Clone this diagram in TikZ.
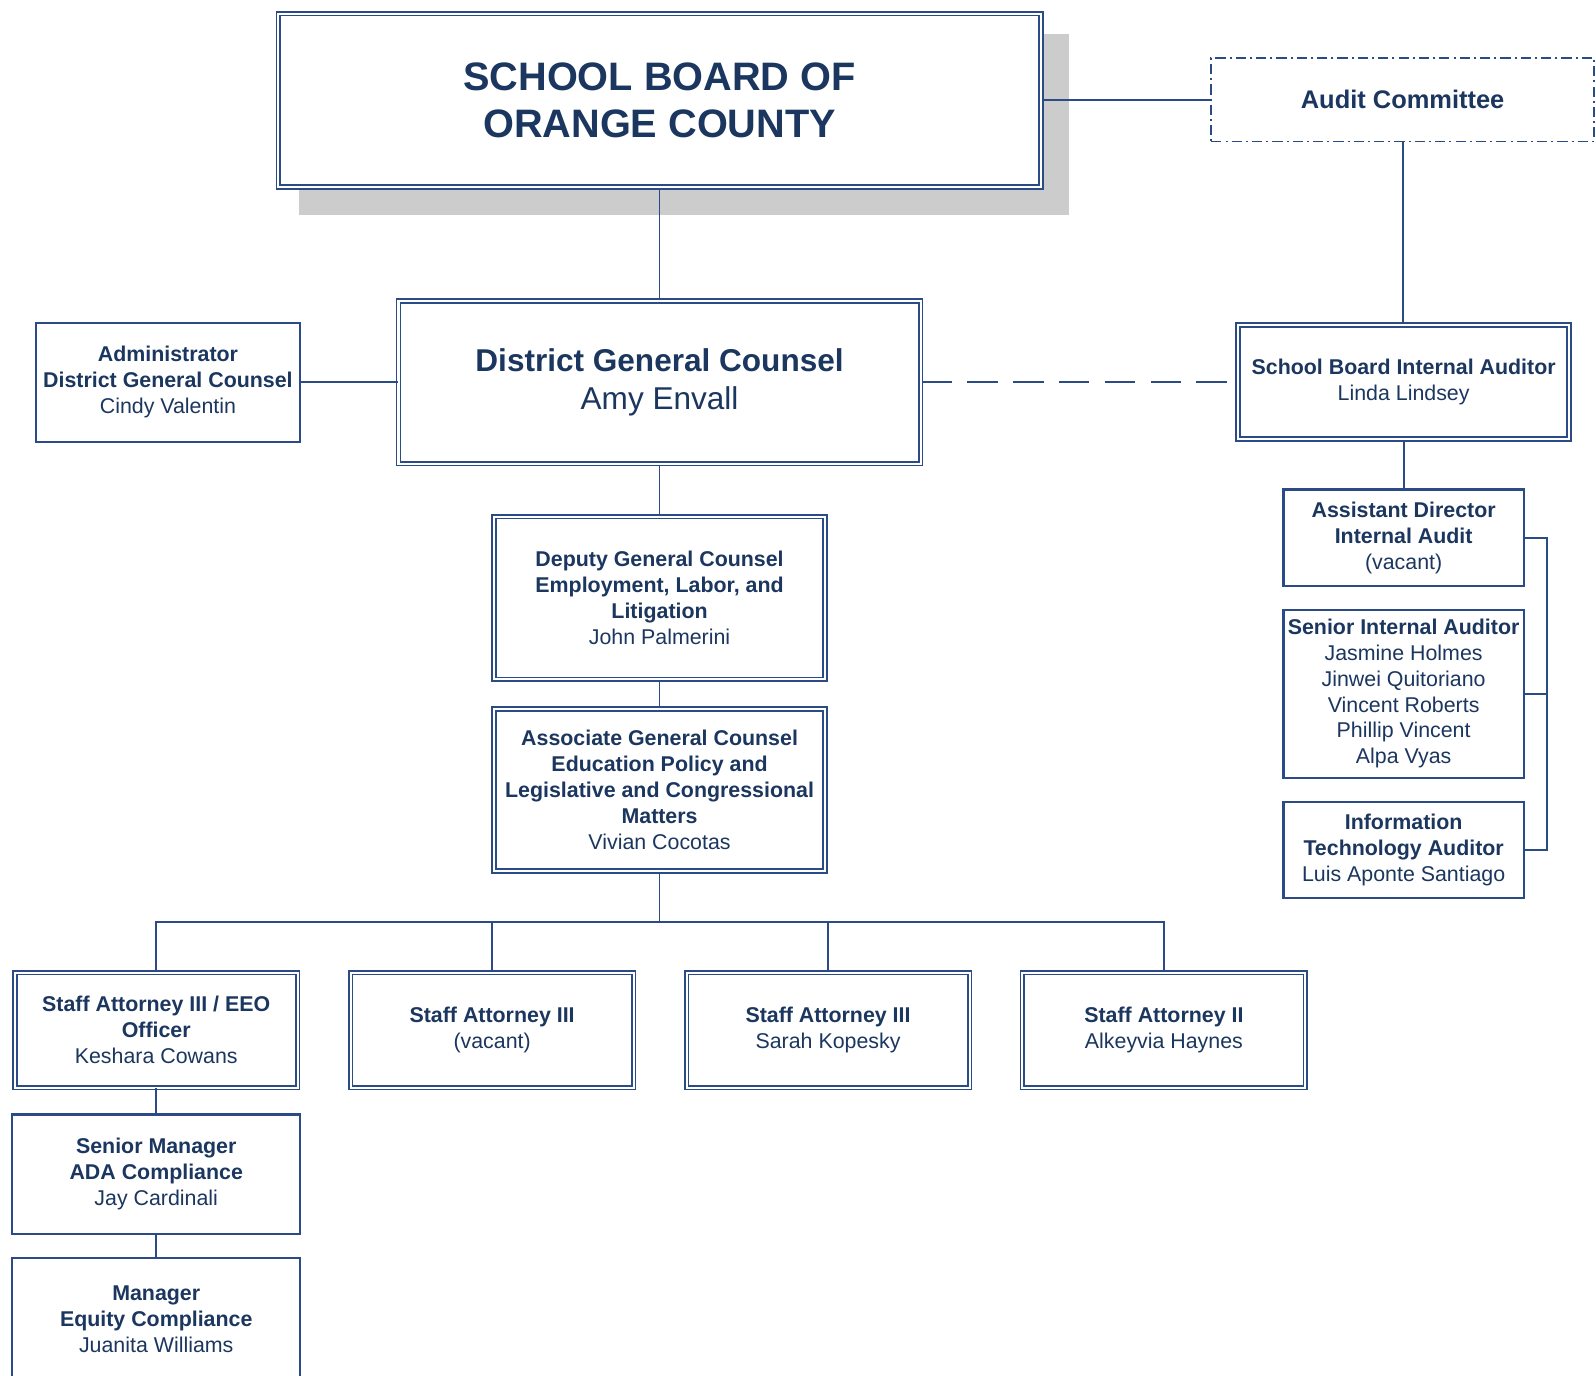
\documentclass[tikz,border=0pt]{standalone}
\usepackage{fontspec}
\setmainfont{Liberation Sans}
\definecolor{txt}{HTML}{1B365F}
\definecolor{lc}{HTML}{2A4B86}
\definecolor{shadowgray}{HTML}{CCCCCC}
\tikzset{
  base/.style={rectangle, inner sep=0pt, align=center, text=txt, fill=white},
  sbox/.style={base, draw=lc, line width=2.2pt},
  dbox/.style={base, draw=lc, line width=1.7pt, double=white, double distance=2pt},
  small/.style={font=\fontsize{21}{25.4}\selectfont},
  conn/.style={draw=lc, line width=1.8pt},
}
\begin{document}
\begin{tikzpicture}[x=1pt,y=-1pt]
\useasboundingbox (0,0) rectangle (1568,1351);
\clip (0,0) rectangle (1568,1351);
% shadow of top box
\fill[shadowgray] (294,33) rectangle (1050,211);
% top
\node[dbox, minimum width=749pt, minimum height=170pt, font=\fontsize{39}{47}\selectfont\bfseries] (top) at (648,98.5) {SCHOOL BOARD OF\\ORANGE COUNTY};
% audit committee
\node[base, draw=lc, line width=1.8pt, dash pattern=on 10pt off 4pt on 2pt off 4pt, minimum width=376pt, minimum height=82pt, font=\fontsize{25}{30}\selectfont\bfseries] (ac) at (1378,98) {Audit Committee};
% DGC
\node[dbox, minimum width=513pt, minimum height=160pt, font=\fontsize{31}{37}\selectfont] (dgc) at (648,375.5) {\textbf{District General Counsel}\\Amy Envall};
% Admin
\node[sbox, small, minimum width=260pt, minimum height=117pt] (adm) at (165,375.5) {\textbf{Administrator}\\\textbf{District General Counsel}\\Cindy Valentin};
% SBIA
\node[dbox, small, minimum width=325pt, minimum height=112pt] (sbia) at (1379,375.5) {\textbf{School Board Internal Auditor}\\Linda Lindsey};
% Asst Dir
\node[sbox, small, minimum width=236pt, minimum height=95pt] (ad) at (1379,528.5) {\textbf{Assistant Director}\\\textbf{Internal Audit}\\(vacant)};
% SIA
\node[sbox, small, minimum width=236pt, minimum height=165pt] (sia) at (1379,681.5) {\textbf{Senior Internal Auditor}\\Jasmine Holmes\\Jinwei Quitoriano\\Vincent Roberts\\Phillip Vincent\\Alpa Vyas};
% IT
\node[sbox, small, minimum width=236pt, minimum height=94pt] (it) at (1379,835) {\textbf{Information}\\\textbf{Technology Auditor}\\Luis Aponte Santiago};
% Deputy
\node[dbox, small, minimum width=325pt, minimum height=160pt] (dep) at (648,587.5) {\textbf{Deputy General Counsel}\\\textbf{Employment, Labor, and}\\\textbf{Litigation}\\John Palmerini};
% Associate
\node[dbox, small, minimum width=325pt, minimum height=159pt] (agc) at (648,776) {\textbf{Associate General Counsel}\\\textbf{Education Policy and}\\\textbf{Legislative and Congressional}\\\textbf{Matters}\\Vivian Cocotas};
% staff
\node[dbox, small, minimum width=278pt, minimum height=113pt] (s1) at (153.5,1012) {\textbf{Staff Attorney III / EEO}\\\textbf{Officer}\\Keshara Cowans};
\node[dbox, small, minimum width=278pt, minimum height=113pt] (s2) at (483.5,1012) {\textbf{Staff Attorney III}\\(vacant)};
\node[dbox, small, minimum width=278pt, minimum height=113pt] (s3) at (813.5,1012) {\textbf{Staff Attorney III}\\Sarah Kopesky};
\node[dbox, small, minimum width=278pt, minimum height=113pt] (s4) at (1143.5,1012) {\textbf{Staff Attorney II}\\Alkeyvia Haynes};
% lower left
\node[sbox, small, minimum width=283pt, minimum height=117pt] (sm) at (153.5,1153.5) {\textbf{Senior Manager}\\\textbf{ADA Compliance}\\Jay Cardinali};
\node[sbox, small, minimum width=283pt, minimum height=120pt] (mg) at (153.5,1296) {\textbf{Manager}\\\textbf{Equity Compliance}\\Juanita Williams};
% connectors
\coordinate (bus) at (648,906);
\coordinate (br) at (1520,0);
\draw[conn] (top.south) -- (dgc.north);
\draw[conn] (top.east) -- (top.east -| ac.west);
\draw[conn] (ac.south) -- (ac.south |- sbia.north);
\draw[conn] (adm.east) -- (adm.east -| dgc.west);
\draw[conn, dash pattern=on 30pt off 15pt] (dgc.east) -- (dgc.east -| sbia.west);
\draw[conn] (sbia.south) -- (ad.north);
\draw[conn] (ad.east) -- (ad.east -| br) -- (it.east -| br) -- (it.east);
\draw[conn] (sia.east) -- (sia.east -| br);
\draw[conn] (dgc.south) -- (dep.north);
\draw[conn] (dep.south) -- (agc.north);
\draw[conn] (agc.south) -- (bus);
\draw[conn] (s1.north) -- (s1.north |- bus) -- (s4.north |- bus) -- (s4.north);
\draw[conn] (s2.north) -- (s2.north |- bus);
\draw[conn] (s3.north) -- (s3.north |- bus);
\draw[conn] (s1.south) -- (sm.north);
\draw[conn] (sm.south) -- (mg.north);
\end{tikzpicture}
\end{document}
